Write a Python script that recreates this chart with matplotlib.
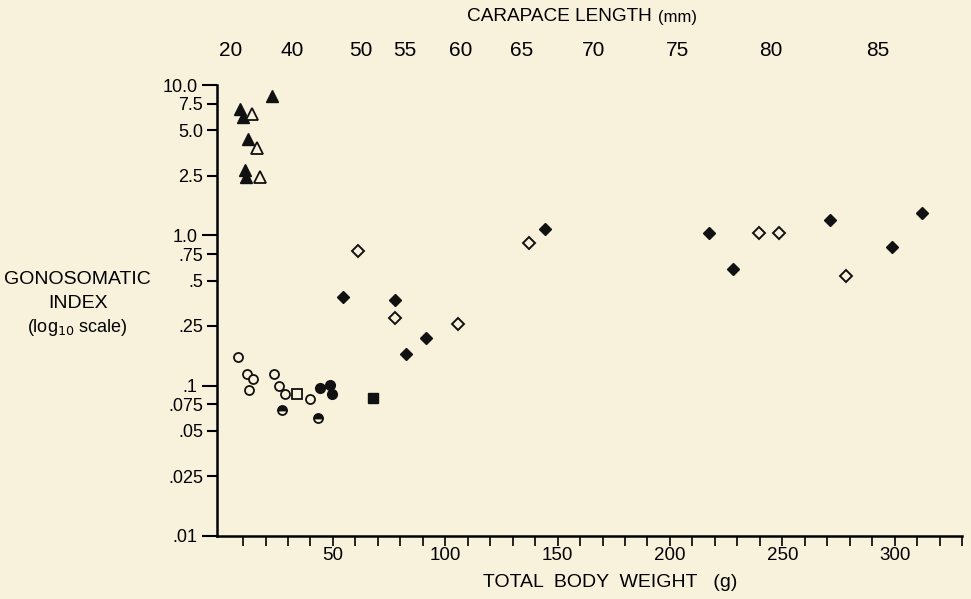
import numpy as np
import matplotlib.pyplot as plt
from matplotlib.ticker import FixedLocator

# --- dane ---
tri_filled_w = [8.6, 10.0, 22.9, 12.2, 10.9, 11.3]
tri_filled_gsi = [6.9, 6.1, 8.4, 4.4, 2.71, 2.44]
tri_open_w = [14.0, 16.2, 17.5]
tri_open_gsi = [6.4, 3.8, 2.44]

circ_open_w = [7.7, 11.7, 14.4, 12.6, 23.8, 26.0, 28.6, 39.8]
circ_open_gsi = [0.156, 0.120, 0.110, 0.094, 0.120, 0.100, 0.0885, 0.0819]
circ_half_w = [27.3, 43.3]
circ_half_gsi = [0.069, 0.061]
circ_filled_w = [44.2, 48.7, 49.6]
circ_filled_gsi = [0.097, 0.1016, 0.0885]

sq_open_w = [34.0]
sq_open_gsi = [0.0885]
sq_filled_w = [67.9]
sq_filled_gsi = [0.083]

dia_open_w = [61.1, 77.6, 105.6, 137.2, 239.5, 248.4, 278.2]
dia_open_gsi = [0.782, 0.280, 0.259, 0.884, 1.03, 1.03, 0.533]
dia_filled_w = [54.4, 77.6, 91.4, 82.4, 144.3, 217.3, 228.0, 271.1, 298.7, 312.0]
dia_filled_gsi = [0.386, 0.369, 0.209, 0.163, 1.096, 1.03, 0.593, 1.26, 0.832, 1.40]

# oś górna: długość karapaksu vs masa ciała
carapace_labels = ["20", "40", "50", "55", "60", "65", "70", "75", "80", "85"]
carapace_weight = [4.6, 31.8, 62.4, 82.0, 106.9, 134.1, 166.1, 203.5, 244.9, 292.4]

y_major = [10.0, 1.0, 0.1, 0.01]
y_minor = [7.5, 5.0, 2.5, 0.75, 0.5, 0.25, 0.075, 0.05, 0.025]
y_major_labels = ["10.0", "1.0", ".1", ".01"]
y_minor_labels = ["7.5", "5.0", "2.5", ".75", ".5", ".25", ".075", ".05", ".025"]

bg = "#f8f1dc"
plt.rcParams['font.family'] = ['Liberation Sans', 'DejaVu Sans']

fig = plt.figure(figsize=(9.71, 5.99), dpi=100, facecolor=bg)
ax = fig.add_axes([217 / 971, 63 / 599, 745 / 971, 451 / 599])
ax.set_facecolor(bg)

k = "#111111"
ax.plot(tri_filled_w, tri_filled_gsi, ls="none", marker="^", ms=8.5, mfc=k, mec=k)
ax.plot(tri_open_w, tri_open_gsi, ls="none", marker="^", ms=8.5, mfc=bg, mec=k, mew=1.3)
ax.plot(circ_open_w, circ_open_gsi, ls="none", marker="o", ms=6.5, mfc=bg, mec=k, mew=1.3)
ax.plot(circ_half_w, circ_half_gsi, ls="none", marker="o", ms=6.5, fillstyle="top",
        mfc=k, mfcalt=bg, mec=k, mew=1.3)
ax.plot(circ_filled_w, circ_filled_gsi, ls="none", marker="o", ms=7, mfc=k, mec=k)
ax.plot(sq_open_w, sq_open_gsi, ls="none", marker="s", ms=7, mfc=bg, mec=k, mew=1.3)
ax.plot(sq_filled_w, sq_filled_gsi, ls="none", marker="s", ms=7, mfc=k, mec=k)
ax.plot(dia_open_w, dia_open_gsi, ls="none", marker="D", ms=6, mfc=bg, mec=k, mew=1.4)
ax.plot(dia_filled_w, dia_filled_gsi, ls="none", marker="D", ms=6.5, mfc=k, mec=k)

ax.set_yscale("log")
ax.set_ylim(0.01, 10.0)
ax.set_xlim(-1.6, 330)

ax.yaxis.set_major_locator(FixedLocator(y_major))
ax.yaxis.set_minor_locator(FixedLocator(y_minor))
ax.set_yticklabels(y_major_labels)
ax.set_yticklabels(y_minor_labels, minor=True)
ax.tick_params(axis="y", which="major", length=11, width=1.5, labelsize=13, pad=3)
ax.tick_params(axis="y", which="minor", length=7, width=1.5, labelsize=13, pad=3)

ax.set_xticks(np.arange(50, 301, 50))
ax.set_xticks(np.arange(10, 331, 10), minor=True)
ax.tick_params(axis="x", which="both", length=7, width=1.2, labelsize=13.5, pad=1)

for s in ["top", "right"]:
    ax.spines[s].set_visible(False)
ax.spines["left"].set_linewidth(1.8)
ax.spines["bottom"].set_linewidth(1.8)

# górna skala
top = ax.secondary_xaxis("top")
top.set_xticks(carapace_weight)
top.set_xticklabels(carapace_labels)
top.tick_params(length=0, labelsize=15, pad=18)
top.spines["top"].set_visible(False)
fig.text(0.671, 0.972, "CARAPACE LENGTH", ha="right", va="center", fontsize=13.7)
fig.text(0.678, 0.970, "(mm)", ha="left", va="center", fontsize=12)

fig.text(0.628, 0.027, "TOTAL  BODY  WEIGHT   (g)", ha="center", va="center", fontsize=14)
fig.text(0.080, 0.533, "GONOSOMATIC", ha="center", va="center", fontsize=14)
fig.text(0.080, 0.494, "INDEX", ha="center", va="center", fontsize=14)
fig.text(0.080, 0.453, r"(log$_{10}$ scale)", ha="center", va="center", fontsize=13)

fig.savefig("out.png", dpi=100, facecolor=bg)
